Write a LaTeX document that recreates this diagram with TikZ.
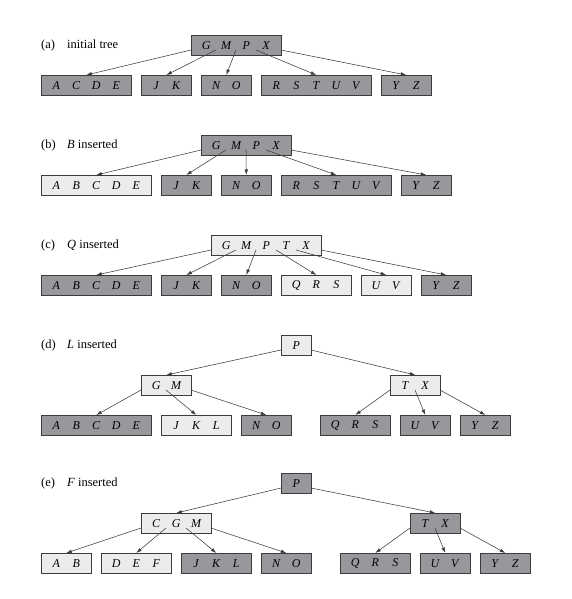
\documentclass[tikz,border=0pt]{standalone}
\usepackage{fontspec}
\setmainfont{Liberation Serif}
\usetikzlibrary{calc,arrows.meta}
\definecolor{dk}{RGB}{152,152,156}
\definecolor{lt}{RGB}{236,236,236}
\definecolor{ln}{RGB}{60,60,60}
\tikzset{
 bn/.style={draw=ln, line width=0.6pt, minimum height=20pt, inner sep=0pt, anchor=north west, font=\fontsize{12}{12}\selectfont},
 dkb/.style={bn, fill=dk},
 ltb/.style={bn, fill=lt},
 ptr/.style={draw=ln, line width=0.55pt, -{Latex[length=5.5pt,width=3.6pt]}},
 lab/.style={anchor=west, font=\fontsize{12.5}{14}\selectfont, inner sep=0pt}
}
\newcommand{\K}[1]{\makebox[20pt]{\textit{#1}}}
\newcommand{\ptrto}[3]{\draw[ptr] ($(#1.north west)+(#2,15)$) -- (#3.north);}
\begin{document}
\begin{tikzpicture}[x=1pt,y=-1pt]
\useasboundingbox (0,0) rectangle (572,599);
% labels
\node[lab] (la) at (41,45) {\makebox[26pt][l]{(a)}initial tree};
\node[lab] (lb) at (41,145) {\makebox[26pt][l]{(b)}\textit{B} inserted};
\node[lab] (lc) at (41,245) {\makebox[26pt][l]{(c)}\textit{Q} inserted};
\node[lab] (ld) at (41,345) {\makebox[26pt][l]{(d)}\textit{L} inserted};
\node[lab] (le) at (41,483) {\makebox[26pt][l]{(e)}\textit{F} inserted};
% (a)
\node[dkb, minimum width=90pt] (a0) at (191,35) {\K{G}\K{M}\K{P}\K{X}};
\node[dkb, minimum width=90pt] (a1) at (41,75) {\K{A}\K{C}\K{D}\K{E}};
\node[dkb, minimum width=50pt] (a2) at (141,75) {\K{J}\K{K}};
\node[dkb, minimum width=50pt] (a3) at (201,75) {\K{N}\K{O}};
\node[dkb, minimum width=110pt] (a4) at (261,75) {\K{R}\K{S}\K{T}\K{U}\K{V}};
\node[dkb, minimum width=50pt] (a5) at (381,75) {\K{Y}\K{Z}};
\ptrto{a0}{0}{a1}\ptrto{a0}{25}{a2}\ptrto{a0}{45}{a3}\ptrto{a0}{65}{a4}\ptrto{a0}{90}{a5}
% (b)
\node[dkb, minimum width=90pt] (b0) at (201,135) {\K{G}\K{M}\K{P}\K{X}};
\node[ltb, minimum width=110pt] (b1) at (41,175) {\K{A}\K{B}\K{C}\K{D}\K{E}};
\node[dkb, minimum width=50pt] (b2) at (161,175) {\K{J}\K{K}};
\node[dkb, minimum width=50pt] (b3) at (221,175) {\K{N}\K{O}};
\node[dkb, minimum width=110pt] (b4) at (281,175) {\K{R}\K{S}\K{T}\K{U}\K{V}};
\node[dkb, minimum width=50pt] (b5) at (401,175) {\K{Y}\K{Z}};
\ptrto{b0}{0}{b1}\ptrto{b0}{25}{b2}\ptrto{b0}{45}{b3}\ptrto{b0}{65}{b4}\ptrto{b0}{90}{b5}
% (c)
\node[ltb, minimum width=110pt] (c0) at (211,235) {\K{G}\K{M}\K{P}\K{T}\K{X}};
\node[dkb, minimum width=110pt] (c1) at (41,275) {\K{A}\K{B}\K{C}\K{D}\K{E}};
\node[dkb, minimum width=50pt] (c2) at (161,275) {\K{J}\K{K}};
\node[dkb, minimum width=50pt] (c3) at (221,275) {\K{N}\K{O}};
\node[ltb, minimum width=70pt] (c4) at (281,275) {\K{Q}\K{R}\K{S}};
\node[ltb, minimum width=50pt] (c5) at (361,275) {\K{U}\K{V}};
\node[dkb, minimum width=50pt] (c6) at (421,275) {\K{Y}\K{Z}};
\ptrto{c0}{0}{c1}\ptrto{c0}{25}{c2}\ptrto{c0}{45}{c3}\ptrto{c0}{65}{c4}\ptrto{c0}{85}{c5}\ptrto{c0}{110}{c6}
% (d)
\node[ltb, minimum width=30pt] (d0) at (281,335) {\K{P}};
\node[ltb, minimum width=50pt] (d1) at (141,375) {\K{G}\K{M}};
\node[ltb, minimum width=50pt] (d2) at (390,375) {\K{T}\K{X}};
\node[dkb, minimum width=110pt] (d3) at (41,415) {\K{A}\K{B}\K{C}\K{D}\K{E}};
\node[ltb, minimum width=70pt] (d4) at (161,415) {\K{J}\K{K}\K{L}};
\node[dkb, minimum width=50pt] (d5) at (241,415) {\K{N}\K{O}};
\node[dkb, minimum width=70pt] (d6) at (320,415) {\K{Q}\K{R}\K{S}};
\node[dkb, minimum width=50pt] (d7) at (400,415) {\K{U}\K{V}};
\node[dkb, minimum width=50pt] (d8) at (460,415) {\K{Y}\K{Z}};
\ptrto{d0}{0}{d1}\ptrto{d0}{30}{d2}
\ptrto{d1}{0}{d3}\ptrto{d1}{25}{d4}\ptrto{d1}{50}{d5}
\ptrto{d2}{0}{d6}\ptrto{d2}{25}{d7}\ptrto{d2}{50}{d8}
% (e)
\node[dkb, minimum width=30pt] (e0) at (281,473) {\K{P}};
\node[ltb, minimum width=70pt] (e1) at (141,513) {\K{C}\K{G}\K{M}};
\node[dkb, minimum width=50pt] (e2) at (410,513) {\K{T}\K{X}};
\node[ltb, minimum width=50pt] (e3) at (41,553) {\K{A}\K{B}};
\node[ltb, minimum width=70pt] (e4) at (101,553) {\K{D}\K{E}\K{F}};
\node[dkb, minimum width=70pt] (e5) at (181,553) {\K{J}\K{K}\K{L}};
\node[dkb, minimum width=50pt] (e6) at (261,553) {\K{N}\K{O}};
\node[dkb, minimum width=70pt] (e7) at (340,553) {\K{Q}\K{R}\K{S}};
\node[dkb, minimum width=50pt] (e8) at (420,553) {\K{U}\K{V}};
\node[dkb, minimum width=50pt] (e9) at (480,553) {\K{Y}\K{Z}};
\ptrto{e0}{0}{e1}\ptrto{e0}{30}{e2}
\ptrto{e1}{0}{e3}\ptrto{e1}{25}{e4}\ptrto{e1}{45}{e5}\ptrto{e1}{70}{e6}
\ptrto{e2}{0}{e7}\ptrto{e2}{25}{e8}\ptrto{e2}{50}{e9}
\end{tikzpicture}
\end{document}
